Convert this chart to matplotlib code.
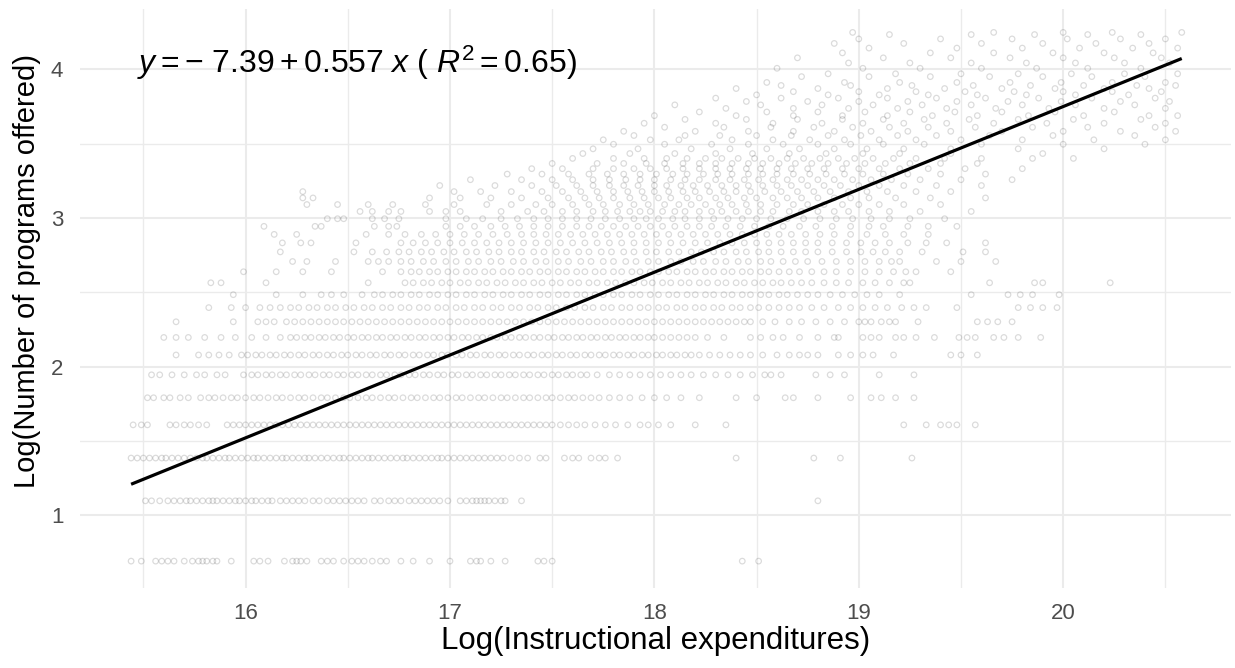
import numpy as np
import matplotlib
matplotlib.use("Agg")
import matplotlib.pyplot as plt

plt.rcParams['font.family'] = ['Liberation Sans', 'DejaVu Sans']
plt.rcParams['mathtext.fontset'] = 'custom'
plt.rcParams['mathtext.rm'] = 'Liberation Sans'
plt.rcParams['mathtext.it'] = 'Liberation Sans:italic'

# fitted line (from the equation in the chart)
fit_intercept = -7.39
fit_slope = 0.557
fit_r2 = 0.65

# log(instructional expenditures) read per row of "number of programs"
x_at_2 = [15.44, 15.49, 15.56, 15.59, 15.62, 15.65, 15.70, 15.74, 15.77, 15.79, 15.81, 15.84, 15.86,
          15.93, 16.04, 16.07, 16.11, 16.19, 16.23, 16.25, 16.27, 16.30, 16.37, 16.40, 16.43, 16.48,
          16.52, 16.55, 16.58, 16.62, 16.66, 16.69, 16.76, 16.82, 16.90, 17.00, 17.10, 17.13, 17.15,
          17.20, 17.27, 17.43, 17.46, 17.50, 18.43, 18.51]
x_at_3 = [15.51, 15.54, 15.58, 15.62, 15.65, 15.68, 15.71, 15.73, 15.76, 15.79, 15.82, 15.84, 15.86,
          15.89, 15.92, 15.95, 15.97, 16.00, 16.03, 16.05, 16.08, 16.11, 16.13, 16.17, 16.20, 16.23,
          16.26, 16.29, 16.33, 16.36, 16.40, 16.43, 16.46, 16.49, 16.52, 16.55, 16.58, 16.63, 16.66,
          16.70, 16.73, 16.76, 16.80, 16.83, 16.86, 16.89, 16.92, 16.95, 16.99, 17.05, 17.08, 17.11,
          17.13, 17.15, 17.17, 17.19, 17.22, 17.25, 17.27, 17.35, 18.80]
x_at_4 = [15.44, 15.47, 15.50, 15.53, 15.56, 15.59, 15.61, 15.64, 15.67, 15.70, 15.73, 15.76, 15.79,
          15.81, 15.84, 15.87, 15.90, 15.92, 15.95, 15.98, 16.01, 16.04, 16.06, 16.09, 16.12, 16.15,
          16.18, 16.20, 16.23, 16.26, 16.29, 16.31, 16.34, 16.37, 16.40, 16.43, 16.46, 16.48, 16.51,
          16.54, 16.57, 16.60, 16.62, 16.65, 16.68, 16.71, 16.74, 16.77, 16.79, 16.82, 16.85, 16.88,
          16.91, 16.94, 16.96, 16.99, 17.02, 17.05, 17.08, 17.11, 17.14, 17.17, 17.20, 17.23, 17.26,
          17.30, 17.34, 17.38, 17.44, 17.47, 17.56, 17.60, 17.63, 17.69, 17.73, 17.76, 17.82, 18.40,
          18.78, 18.91, 19.26]
x_at_5 = [15.45, 15.49, 15.52, 15.63, 15.66, 15.70, 15.73, 15.77, 15.81, 15.91, 15.94, 15.97, 16.00,
          16.03, 16.06, 16.09, 16.12, 16.15, 16.18, 16.21, 16.24, 16.27, 16.30, 16.33, 16.36, 16.39,
          16.42, 16.45, 16.48, 16.51, 16.54, 16.57, 16.60, 16.63, 16.66, 16.69, 16.72, 16.75, 16.78,
          16.81, 16.84, 16.87, 16.90, 16.93, 16.96, 16.99, 17.02, 17.05, 17.08, 17.11, 17.14, 17.17,
          17.20, 17.23, 17.26, 17.29, 17.32, 17.35, 17.38, 17.41, 17.44, 17.47, 17.50, 17.54, 17.58,
          17.62, 17.66, 17.71, 17.76, 17.81, 17.87, 17.93, 17.97, 18.02, 18.08, 18.20, 18.35, 19.22,
          19.33, 19.40, 19.44, 19.48, 19.57]
x_at_6 = [15.52, 15.55, 15.60, 15.63, 15.68, 15.72, 15.78, 15.82, 15.85, 15.89, 15.93, 15.96, 16.00,
          16.04, 16.07, 16.11, 16.15, 16.18, 16.22, 16.26, 16.29, 16.33, 16.37, 16.40, 16.44, 16.48,
          16.51, 16.55, 16.59, 16.62, 16.66, 16.70, 16.73, 16.77, 16.81, 16.84, 16.88, 16.92, 16.95,
          16.99, 17.03, 17.06, 17.10, 17.14, 17.17, 17.21, 17.25, 17.28, 17.32, 17.36, 17.39, 17.43,
          17.47, 17.50, 17.54, 17.58, 17.61, 17.65, 17.69, 17.73, 17.78, 17.83, 17.88, 17.94, 18.00,
          18.06, 18.13, 18.22, 18.40, 18.50, 18.64, 18.68, 18.80, 18.96, 19.06, 19.11, 19.18, 19.27]
x_at_7 = [15.54, 15.58, 15.64, 15.70, 15.76, 15.80, 15.86, 15.90, 15.99, 16.03, 16.06, 16.10, 16.13,
          16.17, 16.20, 16.24, 16.27, 16.31, 16.34, 16.38, 16.41, 16.45, 16.48, 16.52, 16.55, 16.59,
          16.62, 16.66, 16.69, 16.73, 16.76, 16.80, 16.83, 16.87, 16.90, 16.94, 16.97, 17.01, 17.04,
          17.08, 17.11, 17.15, 17.18, 17.22, 17.25, 17.29, 17.32, 17.36, 17.39, 17.43, 17.46, 17.50,
          17.53, 17.57, 17.60, 17.64, 17.67, 17.72, 17.78, 17.83, 17.88, 17.93, 17.98, 18.03, 18.08,
          18.13, 18.18, 18.24, 18.30, 18.36, 18.42, 18.48, 18.54, 18.57, 18.62, 18.79, 18.86, 18.93,
          19.10, 19.27]
x_at_8 = [15.66, 15.77, 15.82, 15.87, 15.92, 15.98, 16.01, 16.05, 16.08, 16.12, 16.15, 16.19, 16.22,
          16.26, 16.29, 16.33, 16.36, 16.40, 16.43, 16.47, 16.50, 16.54, 16.57, 16.61, 16.64, 16.68,
          16.71, 16.75, 16.78, 16.82, 16.85, 16.89, 16.92, 16.96, 16.99, 17.03, 17.06, 17.10, 17.13,
          17.17, 17.20, 17.24, 17.27, 17.31, 17.34, 17.38, 17.41, 17.45, 17.48, 17.52, 17.55, 17.59,
          17.62, 17.66, 17.69, 17.73, 17.76, 17.80, 17.83, 17.87, 17.90, 17.94, 17.97, 18.01, 18.04,
          18.08, 18.11, 18.15, 18.18, 18.22, 18.27, 18.32, 18.37, 18.42, 18.47, 18.53, 18.60, 18.66,
          18.71, 18.75, 18.80, 18.90, 18.96, 19.02, 19.07, 19.17, 19.45, 19.50, 19.58]
x_at_9 = [15.60, 15.66, 15.72, 15.80, 15.88, 15.95, 16.03, 16.10, 16.17, 16.22, 16.25, 16.29, 16.32,
          16.36, 16.39, 16.43, 16.46, 16.50, 16.53, 16.57, 16.60, 16.64, 16.67, 16.71, 16.74, 16.78,
          16.81, 16.85, 16.88, 16.92, 16.95, 16.99, 17.02, 17.06, 17.09, 17.13, 17.16, 17.20, 17.23,
          17.27, 17.30, 17.34, 17.37, 17.41, 17.44, 17.48, 17.51, 17.55, 17.58, 17.62, 17.65, 17.69,
          17.72, 17.76, 17.79, 17.83, 17.86, 17.90, 17.93, 17.97, 18.00, 18.04, 18.08, 18.12, 18.16,
          18.20, 18.26, 18.34, 18.47, 18.52, 18.58, 18.63, 18.71, 18.80, 18.88, 18.90, 19.02, 19.06,
          19.10, 19.18, 19.22, 19.28, 19.37, 19.49, 19.53, 19.57, 19.66, 19.71, 19.78, 19.89]
x_at_10 = [15.66, 15.94, 16.06, 16.10, 16.14, 16.20, 16.24, 16.28, 16.32, 16.36, 16.40, 16.44, 16.48,
           16.52, 16.56, 16.60, 16.64, 16.68, 16.72, 16.76, 16.80, 16.84, 16.88, 16.92, 16.96, 17.00,
           17.04, 17.08, 17.12, 17.16, 17.20, 17.24, 17.28, 17.32, 17.36, 17.40, 17.44, 17.48, 17.52,
           17.56, 17.60, 17.64, 17.68, 17.72, 17.76, 17.80, 17.84, 17.88, 17.92, 17.96, 18.00, 18.04,
           18.08, 18.12, 18.16, 18.20, 18.24, 18.28, 18.32, 18.36, 18.40, 18.44, 18.47, 18.53, 18.59,
           18.66, 18.72, 18.79, 18.86, 18.93, 19.00, 19.03, 19.06, 19.11, 19.15, 19.18, 19.29, 19.58,
           19.63, 19.68, 19.75]
x_at_11 = [15.82, 15.93, 16.00, 16.07, 16.12, 16.17, 16.22, 16.26, 16.31, 16.35, 16.40, 16.44, 16.49,
           16.53, 16.58, 16.62, 16.67, 16.71, 16.76, 16.80, 16.85, 16.89, 16.94, 16.98, 17.03, 17.07,
           17.12, 17.16, 17.21, 17.25, 17.30, 17.34, 17.39, 17.43, 17.48, 17.52, 17.57, 17.61, 17.66,
           17.70, 17.75, 17.79, 17.84, 17.88, 17.93, 17.97, 18.02, 18.06, 18.11, 18.15, 18.20, 18.24,
           18.29, 18.33, 18.38, 18.42, 18.47, 18.51, 18.56, 18.61, 18.66, 18.71, 18.77, 18.83, 18.90,
           18.96, 19.02, 19.08, 19.14, 19.21, 19.27, 19.33, 19.48, 19.78, 19.84, 19.90, 19.97]
x_at_12 = [15.94, 16.15, 16.28, 16.37, 16.42, 16.48, 16.57, 16.63, 16.67, 16.72, 16.76, 16.81, 16.85,
           16.90, 16.94, 16.99, 17.03, 17.08, 17.12, 17.17, 17.21, 17.26, 17.30, 17.35, 17.39, 17.44,
           17.48, 17.53, 17.57, 17.62, 17.66, 17.71, 17.75, 17.80, 17.84, 17.89, 17.93, 17.98, 18.02,
           18.07, 18.11, 18.16, 18.20, 18.25, 18.29, 18.34, 18.38, 18.43, 18.47, 18.52, 18.56, 18.61,
           18.65, 18.70, 18.75, 18.80, 18.86, 18.92, 18.98, 19.04, 19.10, 19.20, 19.55, 19.73, 19.79,
           19.85, 19.98]
x_at_13 = [15.83, 15.88, 16.10, 16.60, 16.78, 16.82, 16.87, 16.91, 16.96, 17.00, 17.05, 17.09, 17.14,
           17.18, 17.23, 17.27, 17.32, 17.36, 17.41, 17.45, 17.50, 17.54, 17.59, 17.63, 17.68, 17.72,
           17.77, 17.81, 17.86, 17.90, 17.95, 17.99, 18.04, 18.08, 18.13, 18.17, 18.22, 18.26, 18.31,
           18.35, 18.40, 18.44, 18.49, 18.53, 18.58, 18.62, 18.67, 18.72, 18.77, 18.83, 18.89, 18.95,
           19.02, 19.08, 19.15, 19.22, 19.25, 19.64, 19.86, 19.90, 20.23]
x_at_14 = [15.99, 16.15, 16.28, 16.42, 16.67, 16.76, 16.81, 16.85, 16.90, 16.94, 16.99, 17.03, 17.08,
           17.12, 17.17, 17.21, 17.26, 17.30, 17.35, 17.39, 17.44, 17.48, 17.53, 17.57, 17.62, 17.66,
           17.71, 17.75, 17.80, 17.84, 17.89, 17.93, 17.98, 18.02, 18.07, 18.11, 18.16, 18.20, 18.25,
           18.29, 18.34, 18.38, 18.43, 18.47, 18.52, 18.56, 18.61, 18.66, 18.71, 18.77, 18.83, 18.89,
           18.96, 19.03, 19.10, 19.17, 19.23, 19.28, 19.45]
x_at_15 = [16.23, 16.30, 16.44, 16.60, 16.65, 16.70, 16.76, 16.81, 16.87, 16.92, 16.98, 17.03, 17.09,
           17.14, 17.20, 17.25, 17.31, 17.36, 17.42, 17.47, 17.53, 17.58, 17.64, 17.69, 17.75, 17.80,
           17.86, 17.91, 17.97, 18.02, 18.08, 18.13, 18.19, 18.24, 18.30, 18.35, 18.41, 18.46, 18.52,
           18.57, 18.63, 18.69, 18.75, 18.82, 18.89, 18.96, 19.03, 19.10, 19.16, 19.20, 19.38, 19.50,
           19.67]
x_at_16 = [16.17, 16.53, 16.62, 16.69, 16.75, 16.80, 16.86, 16.91, 16.97, 17.02, 17.08, 17.13, 17.19,
           17.24, 17.30, 17.35, 17.41, 17.46, 17.52, 17.57, 17.63, 17.68, 17.74, 17.79, 17.85, 17.90,
           17.96, 18.01, 18.07, 18.12, 18.18, 18.23, 18.29, 18.34, 18.40, 18.45, 18.51, 18.56, 18.62,
           18.68, 18.74, 18.80, 18.87, 18.94, 19.01, 19.07, 19.13, 19.20, 19.31, 19.51, 19.62]
x_at_17 = [16.18, 16.27, 16.32, 16.54, 16.76, 16.82, 16.88, 16.94, 17.00, 17.06, 17.12, 17.18, 17.24,
           17.30, 17.36, 17.42, 17.48, 17.54, 17.60, 17.66, 17.72, 17.78, 17.84, 17.90, 17.96, 18.02,
           18.08, 18.14, 18.20, 18.26, 18.32, 18.38, 18.44, 18.50, 18.56, 18.62, 18.68, 18.74, 18.80,
           18.87, 18.94, 19.01, 19.08, 19.15, 19.24, 19.33, 19.43, 19.62]
x_at_18 = [16.14, 16.25, 16.59, 16.70, 16.78, 16.86, 16.93, 17.00, 17.07, 17.14, 17.21, 17.28, 17.35,
           17.41, 17.47, 17.53, 17.59, 17.65, 17.71, 17.77, 17.83, 17.89, 17.95, 18.01, 18.07, 18.13,
           18.19, 18.25, 18.31, 18.37, 18.43, 18.49, 18.55, 18.61, 18.67, 18.74, 18.81, 18.88, 18.96,
           19.04, 19.13, 19.22, 19.34]
x_at_19 = [16.09, 16.34, 16.37, 16.63, 16.70, 16.74, 16.98, 17.05, 17.12, 17.20, 17.27, 17.34, 17.41,
           17.48, 17.55, 17.62, 17.68, 17.74, 17.80, 17.86, 17.92, 17.98, 18.04, 18.10, 18.16, 18.22,
           18.28, 18.35, 18.42, 18.49, 18.56, 18.63, 18.71, 18.79, 18.87, 18.96, 19.05, 19.12, 19.24,
           19.34, 19.48]
x_at_20 = [16.40, 16.45, 16.48, 16.62, 16.68, 16.75, 16.98, 17.08, 17.16, 17.25, 17.33, 17.41, 17.48,
           17.55, 17.62, 17.69, 17.76, 17.83, 17.90, 17.96, 18.02, 18.09, 18.15, 18.22, 18.29, 18.36,
           18.43, 18.50, 18.57, 18.65, 18.73, 18.81, 18.89, 18.97, 19.06, 19.15, 19.25, 19.42]
x_at_21 = [16.56, 16.62, 16.70, 16.76, 16.90, 16.98, 17.05, 17.25, 17.38, 17.46, 17.55, 17.62, 17.70,
           17.76, 17.82, 17.88, 17.93, 17.98, 18.04, 18.10, 18.15, 18.22, 18.28, 18.33, 18.40, 18.46,
           18.52, 18.58, 18.66, 18.72, 18.80, 18.88, 18.95, 19.05, 19.15, 19.30, 19.55]
x_at_22 = [16.30, 16.45, 16.60, 16.72, 16.88, 17.02, 17.18, 17.30, 17.42, 17.50, 17.60, 17.68, 17.75,
           17.83, 17.90, 17.97, 18.05, 18.12, 18.18, 18.25, 18.32, 18.38, 18.45, 18.52, 18.60, 18.68,
           18.75, 18.83, 18.92, 19.00, 19.10, 19.22, 19.40]
x_at_23 = [16.28, 16.33, 16.90, 17.05, 17.20, 17.35, 17.48, 17.58, 17.66, 17.73, 17.80, 17.88, 17.95,
           18.02, 18.08, 18.16, 18.22, 18.30, 18.36, 18.44, 18.50, 18.58, 18.65, 18.72, 18.80, 18.88,
           18.96, 19.05, 19.18, 19.35, 19.62]
x_at_24 = [16.28, 17.02, 17.15, 17.30, 17.45, 17.55, 17.64, 17.72, 17.80, 17.87, 17.94, 18.00, 18.07,
           18.14, 18.20, 18.27, 18.34, 18.40, 18.47, 18.54, 18.62, 18.70, 18.78, 18.86, 18.95, 19.04,
           19.14, 19.28, 19.45]
x_at_25 = [16.95, 17.22, 17.40, 17.52, 17.62, 17.70, 17.78, 17.85, 17.92, 18.00, 18.06, 18.13, 18.19,
           18.26, 18.33, 18.40, 18.46, 18.53, 18.60, 18.67, 18.75, 18.83, 18.91, 19.00, 19.10, 19.22,
           19.38, 19.60]
x_at_26 = [17.10, 17.35, 17.50, 17.60, 17.70, 17.78, 17.86, 17.93, 18.00, 18.08, 18.15, 18.22, 18.30,
           18.37, 18.44, 18.51, 18.58, 18.65, 18.72, 18.80, 18.88, 18.97, 19.06, 19.16, 19.30, 19.50,
           19.75]
x_at_27 = [17.28, 17.45, 17.58, 17.68, 17.77, 17.85, 17.93, 18.01, 18.09, 18.16, 18.24, 18.31, 18.38,
           18.46, 18.53, 18.60, 18.68, 18.76, 18.84, 18.93, 19.02, 19.12, 19.24, 19.40, 19.62]
x_at_28 = [17.40, 17.55, 17.70, 17.80, 17.90, 17.98, 18.06, 18.14, 18.22, 18.30, 18.37, 18.45, 18.52,
           18.60, 18.67, 18.75, 18.83, 18.92, 19.00, 19.10, 19.20, 19.34, 19.52, 19.80]
x_at_29 = [17.50, 17.72, 17.85, 17.96, 18.05, 18.14, 18.22, 18.30, 18.38, 18.46, 18.53, 18.61, 18.69,
           18.77, 18.85, 18.94, 19.03, 19.13, 19.25, 19.40, 19.58]
x_at_30 = [17.60, 17.80, 17.95, 18.06, 18.16, 18.25, 18.33, 18.41, 18.49, 18.57, 18.65, 18.73, 18.81,
           18.90, 18.98, 19.07, 19.17, 19.28, 19.42, 19.60, 19.85, 20.05]

# upper cloud (more than 30 programs): (log expenditures, number of programs)
cloud_pts = [
    (17.65, 31), (17.88, 31), (18.10, 31), (18.30, 31), (18.48, 31), (18.66, 31), (18.84, 31),
    (19.02, 31), (19.20, 31), (19.45, 31), (19.90, 31),
    (17.70, 32), (17.92, 32), (18.18, 32), (18.37, 32), (18.55, 32), (18.71, 32), (18.88, 32),
    (19.04, 32), (19.22, 32), (19.45, 32), (19.78, 32), (20.20, 32),
    (17.80, 33), (18.05, 33), (18.28, 33), (18.46, 33), (18.63, 33), (18.80, 33), (18.96, 33),
    (19.12, 33), (19.32, 33), (19.60, 33), (20.00, 33), (20.40, 33),
    (17.75, 34), (17.98, 34), (18.12, 34), (18.38, 34), (18.58, 34), (18.76, 34), (18.93, 34),
    (19.10, 34), (19.28, 34), (19.50, 34), (19.80, 34), (20.15, 34), (20.50, 34),
    (17.90, 35), (18.15, 35), (18.32, 35), (18.50, 35), (18.67, 35), (18.85, 35), (19.01, 35),
    (19.19, 35), (19.38, 35), (19.64, 35), (19.95, 35), (20.35, 35),
    (17.85, 36), (18.20, 36), (18.46, 36), (18.68, 36), (18.88, 36), (19.06, 36), (19.24, 36),
    (19.45, 36), (19.70, 36), (20.00, 36), (20.28, 36), (20.55, 36),
    (18.05, 37), (18.34, 37), (18.57, 37), (18.78, 37), (18.97, 37), (19.15, 37), (19.34, 37),
    (19.57, 37), (19.85, 37), (20.12, 37), (20.45, 37),
    (17.95, 38), (18.30, 38), (18.58, 38), (18.82, 38), (19.02, 38), (19.22, 38), (19.43, 38),
    (19.66, 38), (19.92, 38), (20.20, 38), (20.50, 38),
    (18.15, 39), (18.45, 39), (18.70, 39), (18.92, 39), (19.12, 39), (19.32, 39), (19.54, 39),
    (19.78, 39), (20.05, 39), (20.38, 39),
    (18.00, 40), (18.40, 40), (18.68, 40), (18.92, 40), (19.14, 40), (19.36, 40), (19.58, 40),
    (19.83, 40), (20.10, 40), (20.42, 40), (20.56, 40),
    (18.22, 41), (18.55, 41), (18.80, 41), (19.03, 41), (19.25, 41), (19.47, 41), (19.70, 41),
    (19.96, 41), (20.25, 41),
    (18.35, 42), (18.68, 42), (18.95, 42), (19.19, 42), (19.43, 42), (19.67, 42), (19.93, 42),
    (20.20, 42), (20.50, 42),
    (18.10, 43), (18.52, 43), (18.82, 43), (19.07, 43), (19.31, 43), (19.55, 43), (19.80, 43),
    (20.06, 43), (20.35, 43),
    (18.45, 44), (18.75, 44), (19.00, 44), (19.24, 44), (19.48, 44), (19.73, 44), (19.99, 44),
    (20.28, 44), (20.52, 44),
    (18.30, 45), (18.62, 45), (18.90, 45), (19.14, 45), (19.38, 45), (19.62, 45), (19.88, 45),
    (20.14, 45), (20.45, 45),
    (18.50, 46), (18.85, 46), (19.10, 46), (19.34, 46), (19.58, 46), (19.82, 46), (20.06, 46),
    (20.32, 46),
    (18.68, 47), (19.00, 47), (19.28, 47), (19.52, 47), (19.76, 47), (20.00, 47), (20.24, 47),
    (20.48, 47),
    (18.40, 48), (18.80, 48), (19.14, 48), (19.42, 48), (19.70, 48), (19.96, 48), (20.20, 48),
    (20.42, 48),
    (18.62, 49), (18.96, 49), (19.26, 49), (19.56, 49), (19.84, 49), (20.10, 49), (20.36, 49),
    (20.55, 49),
    (18.55, 50), (18.93, 50), (19.20, 50), (19.48, 50), (19.74, 50), (19.99, 50), (20.24, 50),
    (20.50, 50),
    (18.72, 52), (19.05, 52), (19.35, 52), (19.64, 52), (19.90, 52), (20.14, 52), (20.40, 52),
    (18.85, 53), (19.18, 53), (19.50, 53), (19.78, 53), (20.04, 53), (20.30, 53), (20.56, 53),
    (18.60, 55), (19.02, 55), (19.30, 55), (19.60, 55), (19.87, 55), (20.12, 55), (20.38, 55),
    (18.95, 57), (19.25, 57), (19.55, 57), (19.82, 57), (20.06, 57), (20.30, 57), (20.52, 57),
    (18.70, 59), (19.12, 59), (19.45, 59), (19.74, 59), (20.00, 59), (20.25, 59), (20.48, 59),
    (18.92, 61), (19.35, 61), (19.66, 61), (19.95, 61), (20.20, 61), (20.44, 61),
    (19.05, 63), (19.48, 63), (19.80, 63), (20.08, 63), (20.34, 63), (20.56, 63),
    (18.88, 65), (19.22, 65), (19.60, 65), (19.90, 65), (20.16, 65), (20.42, 65),
    (19.00, 67), (19.40, 67), (19.75, 67), (20.02, 67), (20.28, 67), (20.50, 67),
    (19.15, 69), (19.55, 69), (19.86, 69), (20.12, 69), (20.38, 69),
    (18.97, 70), (19.66, 70), (20.00, 70), (20.24, 70), (20.58, 70),
]

row_counts = list(range(2, 31))
row_xs = [x_at_2, x_at_3, x_at_4, x_at_5, x_at_6, x_at_7, x_at_8, x_at_9, x_at_10, x_at_11,
          x_at_12, x_at_13, x_at_14, x_at_15, x_at_16, x_at_17, x_at_18, x_at_19, x_at_20,
          x_at_21, x_at_22, x_at_23, x_at_24, x_at_25, x_at_26, x_at_27, x_at_28, x_at_29, x_at_30]

xs, ns = [], []
for n, row in zip(row_counts, row_xs):
    xs += row
    ns += [n] * len(row)
for x, n in cloud_pts:
    xs.append(x)
    ns.append(n)
xs = np.array(xs)
ys = np.log(np.array(ns))

fig = plt.figure(figsize=(12.35, 6.68), dpi=100)
ax = fig.add_axes([80 / 1235, 80 / 668, 1151 / 1235, 579 / 668])

ax.scatter(xs, ys, s=16, facecolors='none', edgecolors='black', linewidths=0.9, alpha=0.14, zorder=2)

line_x = np.array([xs.min(), xs.max()])
ax.plot(line_x, fit_intercept + fit_slope * line_x, color='black', lw=2.3, zorder=3,
        solid_capstyle='butt')

ax.set_xlim(15.190, 20.821)
ax.set_ylim(0.5124, 4.406)
ax.set_xticks([16, 17, 18, 19, 20])
ax.set_yticks([1, 2, 3, 4])
ax.set_xticks([15.5, 16.5, 17.5, 18.5, 19.5, 20.5], minor=True)
ax.set_yticks([1.5, 2.5, 3.5], minor=True)
ax.grid(which='major', color='#ebebeb', lw=1.5, zorder=0)
ax.grid(which='minor', color='#ebebeb', lw=1.0, zorder=0)
ax.set_axisbelow(True)
for s in ax.spines.values():
    s.set_visible(False)
ax.tick_params(which='both', length=0)
ax.tick_params(axis='x', labelsize=16, labelcolor='#4d4d4d', pad=11)
ax.tick_params(axis='y', labelsize=16, labelcolor='#4d4d4d', pad=12)

ax.set_xlabel('Log(Instructional expenditures)', fontsize=22.5, labelpad=1)
ax.set_ylabel('Log(Number of programs offered)', fontsize=21)
ax.yaxis.set_label_coords(-0.0339, 0.5475)

eq = r'$y = -\ 7.39 + 0.557\ x\ (\ R^2 = %.2f)$' % fit_r2
ax.text(15.469, 4.043, eq, fontsize=23, ha='left', va='center')

fig.savefig('out.png', dpi=100)
